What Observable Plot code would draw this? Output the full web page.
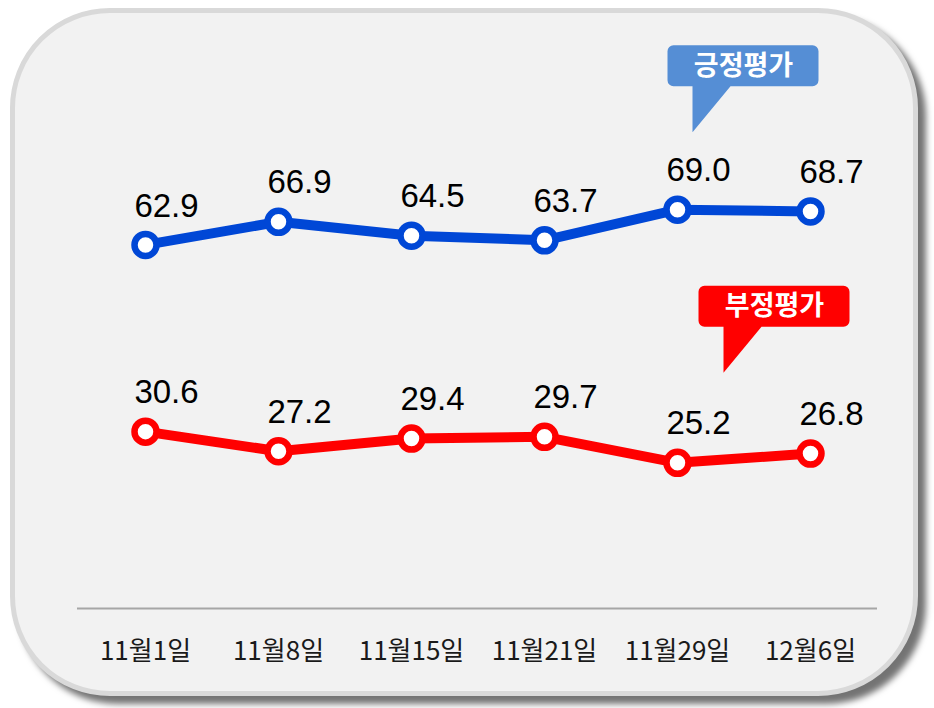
<!DOCTYPE html>
<html>
<head>
<meta charset="utf-8">
<script src="https://cdn.jsdelivr.net/npm/d3@7"></script>
<script src="https://cdn.jsdelivr.net/npm/@observablehq/plot@0.6"></script>
<style>
  html, body { margin: 0; padding: 0; background: #ffffff; }
  #wrap { position: relative; width: 934px; height: 708px; overflow: hidden; }
  #panel {
    position: absolute; left: 10px; top: 8px; width: 908px; height: 688px;
    box-sizing: border-box; border: 5px solid #d9d9d9; border-radius: 100px;
    background: #f2f2f2; box-shadow: 8px 8px 6px rgba(0,0,0,0.55);
  }
  #chart { position: absolute; left: 0; top: 0; }
  #chart svg { background: transparent; overflow: visible; }
  g[aria-label="callout"] { filter: drop-shadow(3px 3px 2px rgba(0,0,0,0.35)); }
</style>
</head>
<body>
<div id="wrap"><div id="panel"></div><div id="chart"></div></div>
<script>
const dates = ["11월1일", "11월8일", "11월15일", "11월21일", "11월29일", "12월6일"];
const positive = [62.9, 66.9, 64.5, 63.7, 69.0, 68.7];
const negative = [30.6, 27.2, 29.4, 29.7, 25.2, 26.8];
const seriesNames = ["긍정평가", "부정평가"];
const seriesColors = ["#0047d6", "#ff0000"];
const calloutColors = ["#558ed5", "#ff0000"];
const calloutAnchor = ["11월29일", "11월29일"];
const calloutValue = [82.4, 40.8];

const rows = [];
[positive, negative].forEach((vals, s) => {
  vals.forEach((v, i) => rows.push({date: dates[i], value: v, series: seriesNames[s]}));
});

// callout shape: tip at (0,0), rounded box above
const calloutSymbol = {
  draw(ctx) {
    const L = -25, R = 126, T = -87, B = -46, r = 6;
    ctx.moveTo(0, 0);
    ctx.lineTo(38, B);
    ctx.lineTo(R - r, B);
    ctx.arcTo(R, B, R, T, r);
    ctx.arcTo(R, T, L, T, r);
    ctx.arcTo(L, T, L, B, r);
    ctx.arcTo(L, B, 0, B, r);
    ctx.lineTo(0, B);
    ctx.closePath();
  }
};

const calloutMarks = seriesNames.flatMap((name, s) => {
  const d = [{date: calloutAnchor[s], value: calloutValue[s], name}];
  const dx = s === 0 ? 15 : 46;
  return [
    Plot.dot(d, {x: "date", y: "value", symbol: calloutSymbol, r: 5, fill: calloutColors[s], stroke: "none", dx, ariaLabel: "callout"}),
    Plot.text(d, {x: "date", y: "value", text: "name", dx: dx + 51, dy: -66, fill: "white", fontSize: 27, fontWeight: "bold", fontFamily: "Noto Sans CJK KR", style: {letterSpacing: "1px"}})
  ];
});

const chart = Plot.plot({
  width: 934,
  height: 708,
  marginTop: 30,
  marginBottom: 100,
  marginLeft: 77,
  marginRight: 57,
  style: {background: "transparent", overflow: "visible"},
  x: {type: "point", domain: dates, padding: 0.5, label: null},
  y: {domain: [0, 100], axis: null},
  color: {domain: seriesNames, range: seriesColors},
  marks: [
    Plot.ruleY([0], {stroke: "#a6a6a6", strokeWidth: 2}),
    Plot.axisX({tickSize: 0, tickPadding: 33, fontSize: 26, fontFamily: "Noto Sans CJK KR", color: "#1a1a1a", label: null, style: {letterSpacing: "0.5px"}}),
    Plot.line(rows, {x: "date", y: "value", z: "series", stroke: "series", strokeWidth: 10, strokeLinejoin: "round"}),
    Plot.dot(rows, {x: "date", y: "value", stroke: "series", fill: "white", r: 11, strokeWidth: 6.5}),
    Plot.text(rows, {x: "date", y: "value", text: d => d.value.toFixed(1), dx: 21, dy: -39, fontSize: 33, fontFamily: "Liberation Sans, Arial, sans-serif", fill: "#000", style: {letterSpacing: "0.5px"}}),
    ...calloutMarks
  ]
});
document.getElementById("chart").appendChild(chart);
</script>
</body>
</html>
